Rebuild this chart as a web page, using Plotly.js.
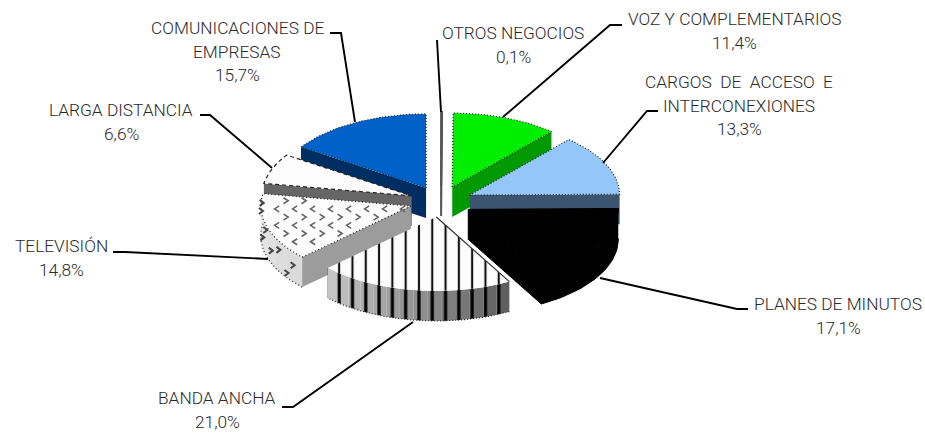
<!DOCTYPE html>
<html><head><meta charset="utf-8">
<script src="https://cdn.plot.ly/plotly-3.0.1.min.js"></script>
<style>html,body{margin:0;padding:0;background:#fff}#c{width:925px;height:433px}</style>
</head><body><div id="c"></div>
<script>
const categories = ["OTROS NEGOCIOS","VOZ Y COMPLEMENTARIOS","CARGOS DE ACCESO E INTERCONEXIONES","PLANES DE MINUTOS","BANDA ANCHA","TELEVISIÓN","LARGA DISTANCIA","COMUNICACIONES DE EMPRESAS"];
const shares = [0.1,11.4,13.3,17.1,21.0,14.8,6.6,15.7];
const shareLabels = ["0,1%","11,4%","13,3%","17,1%","21,0%","14,8%","6,6%","15,7%"];
const labelLines = [["OTROS NEGOCIOS"],["VOZ Y COMPLEMENTARIOS"],["CARGOS  DE  ACCESO  E","INTERCONEXIONES"],["PLANES DE MINUTOS"],["BANDA ANCHA"],["TELEVISIÓN"],["LARGA DISTANCIA"],["COMUNICACIONES DE","EMPRESAS"]];
const labelCentre = [[513,33],[734,19],[739,82],[838,304],[217,398],[61,246],[121,110],[237,28]];
const leaders = [
 [[437,40],[441,112]],
 [[622,25],[610,25],[503,117]],
 [[658,111],[647,111],[603,163]],
 [[748,309],[737,309],[600,278]],
 [[282,407],[293,407],[413,322]],
 [[113,252],[125,252],[268,259]],
 [[200,115],[210,115],[272,168]],
 [[330,33],[341,33],[355,122]]
];
const tvWallMarks = [[232,0.45],[236,0.85],[242,0.3],[249,0.6],[256,0.2],[262,0.7],[272,0.25],[276,0.15]];
// geometry of the tilted pie
const CX=441, CY=201.6, RX=150, RY=74, DEPTH=30, PULL=0.21;
const drawOrder=[7,0,1,6,2,5,4,3];

let cum=0;
const sl=shares.map(v=>{const a=cum*3.6;cum+=v;const b=cum*3.6;const m=(a+b)/2*Math.PI/180;
  return {a,b,ax:CX+PULL*RX*Math.sin(m),ay:CY-PULL*RY*Math.cos(m)};});
const rim=(s,t,d=0)=>{const r=t*Math.PI/180;return [s.ax+RX*Math.sin(r),s.ay-RY*Math.cos(r)+d];};
const arc=(s,a,b,d=0)=>{const n=Math.max(2,Math.ceil(Math.abs(b-a)/2)),o=[];for(let i=0;i<=n;i++)o.push(rim(s,a+(b-a)*i/n,d));return o;};
const traces=[];
function poly(p,o={}){
  traces.push(Object.assign({type:'scatter',mode:'lines',x:p.map(q=>q[0]),y:p.map(q=>q[1]),fill:'toself',fillcolor:o.fc||'#fff',
    line:o.line||{width:0,color:o.fc||'#fff'},hoverinfo:'skip',showlegend:false},o.fp?{fillpattern:o.fp}:{}));
}
function stroke(p,c,w,dash){traces.push({type:'scatter',mode:'lines',x:p.map(q=>q?q[0]:null),y:p.map(q=>q?q[1]:null),
  line:{color:c,width:w,dash:dash||'solid'},hoverinfo:'skip',showlegend:false,connectgaps:false});}
const topFace=s=>[[s.ax,s.ay],...arc(s,s.a,s.b),[s.ax,s.ay]];
const radial=(s,t)=>{const r=rim(s,t),q=rim(s,t,DEPTH);return [[s.ax,s.ay],r,q,[s.ax,s.ay+DEPTH],[s.ax,s.ay]];};
const outer=(s,a,b)=>[...arc(s,a,b),...arc(s,b,a,DEPTH)];
const dotted={color:'#222',width:1.2,dash:'1px,2px'};
const mix=(a,b,t)=>{const v=Math.round(a+(b-a)*t);return `rgb(${v},${v},${v})`;};
function chevrons(s){
  const out=[];let row=0;
  for(let y=s.ay-30;y<s.ay+70;y+=8.2,row++){
    const dir=row%2?1:-1;
    for(let x=s.ax-170+(row%2?9:0);x<s.ax;x+=18){
      const u=(x-s.ax)/RX,v=-(y-s.ay)/RY;let t=Math.atan2(u,v)*180/Math.PI;if(t<0)t+=360;
      if(u*u+v*v<0.9&&t>s.a+5&&t<s.b-3){out.push([x-dir*2.3,y-3],[x+dir*2.3,y],[x-dir*2.3,y+3],null);}
    }
  }
  return out;
}
const draw={
 7:s=>{poly(radial(s,s.a),{fc:'#002D62'});poly(topFace(s),{fc:'#0061C8',line:dotted});},
 0:s=>{const l={color:'#555',width:2};poly(radial(s,s.b),{fc:'#555',line:l});poly(topFace(s),{fc:'#555',line:l});},
 1:s=>{poly(radial(s,s.b),{fc:'#009A00'});poly(topFace(s),{fc:'#00EE00',line:dotted});},
 6:s=>{poly(radial(s,s.a),{fc:'#666'});poly(topFace(s),{fc:'#FCFCFC',line:{color:'#222',width:1.2,dash:'4px,3px'}});},
 2:s=>{poly(radial(s,s.b),{fc:'#3D5470'});poly(topFace(s),{fc:'#93C6F9',line:dotted});},
 5:s=>{const N=6;for(let i=0;i<N;i++){const a=s.a+(s.b-s.a)*i/N,b=s.a+(s.b-s.a)*(i+1)/N,c=mix(218,238,i/N);poly(outer(s,a,b),{fc:c,line:{color:c,width:1}});}
   poly(radial(s,s.a),{fc:'#9C9C9C'});
   poly(topFace(s),{fc:'#FDFDFD',line:{color:'#222',width:1.3,dash:'1px,2.5px'}});
   stroke(chevrons(s),'#666',1.6);
   const marks=[];tvWallMarks.forEach(m=>{const c=rim(s,m[0],m[1]*DEPTH);marks.push([c[0]-2,c[1]-3],[c[0]+2,c[1]],[c[0]-2,c[1]+3],null);});
   stroke(marks,'#444',2);
   stroke(arc(s,s.a,s.b,DEPTH),'#333',1.3,'1px,2.5px');},
 4:s=>{const N=14;for(let i=0;i<N;i++){const a=s.a+(s.b-s.a)*i/N,b=s.a+(s.b-s.a)*(i+1)/N,c=mix(95,205,i/N);
     poly(outer(s,a,b),{fc:c,fp:{shape:'|',size:13.3,solidity:0.24,fgcolor:'#000',bgcolor:c}});}
   poly(topFace(s),{fc:'#fff',fp:{shape:'|',size:13.3,solidity:0.16,fgcolor:'#111',bgcolor:'#FCFCFC'}});
   stroke([[s.ax,s.ay],rim(s,s.a)],'#333',1.2);
   stroke(arc(s,s.a,s.b,DEPTH),'#222',1.2,'1px,2px');},
 3:s=>{const l={color:'#000',width:1};poly(radial(s,s.b),{fc:'#000',line:l});poly(outer(s,s.a,s.b),{fc:'#000',line:l});poly(topFace(s),{fc:'#000',line:l});}
};
drawOrder.forEach(i=>draw[i](sl[i]));
leaders.forEach(l=>stroke(l,'#000',1.9));

const FONT='Roboto, Lato, sans-serif', LH=23.5;
const annotations=[];
labelLines.forEach((ls,i)=>{
  [...ls,shareLabels[i]].forEach((t,j)=>annotations.push({xref:'x',yref:'y',x:labelCentre[i][0],y:labelCentre[i][1]+j*LH,text:t,showarrow:false,
    xanchor:'center',yanchor:'middle',font:{family:FONT,size:17.3,weight:300,color:'#2a2a2a'}}));
});
Plotly.newPlot('c',traces,{
  width:925,height:433,margin:{l:0,r:0,t:0,b:0},paper_bgcolor:'#fff',plot_bgcolor:'#fff',showlegend:false,
  xaxis:{range:[0,925],visible:false,fixedrange:true},
  yaxis:{range:[433,0],visible:false,fixedrange:true},
  annotations
},{displayModeBar:false,staticPlot:true});
</script></body></html>
